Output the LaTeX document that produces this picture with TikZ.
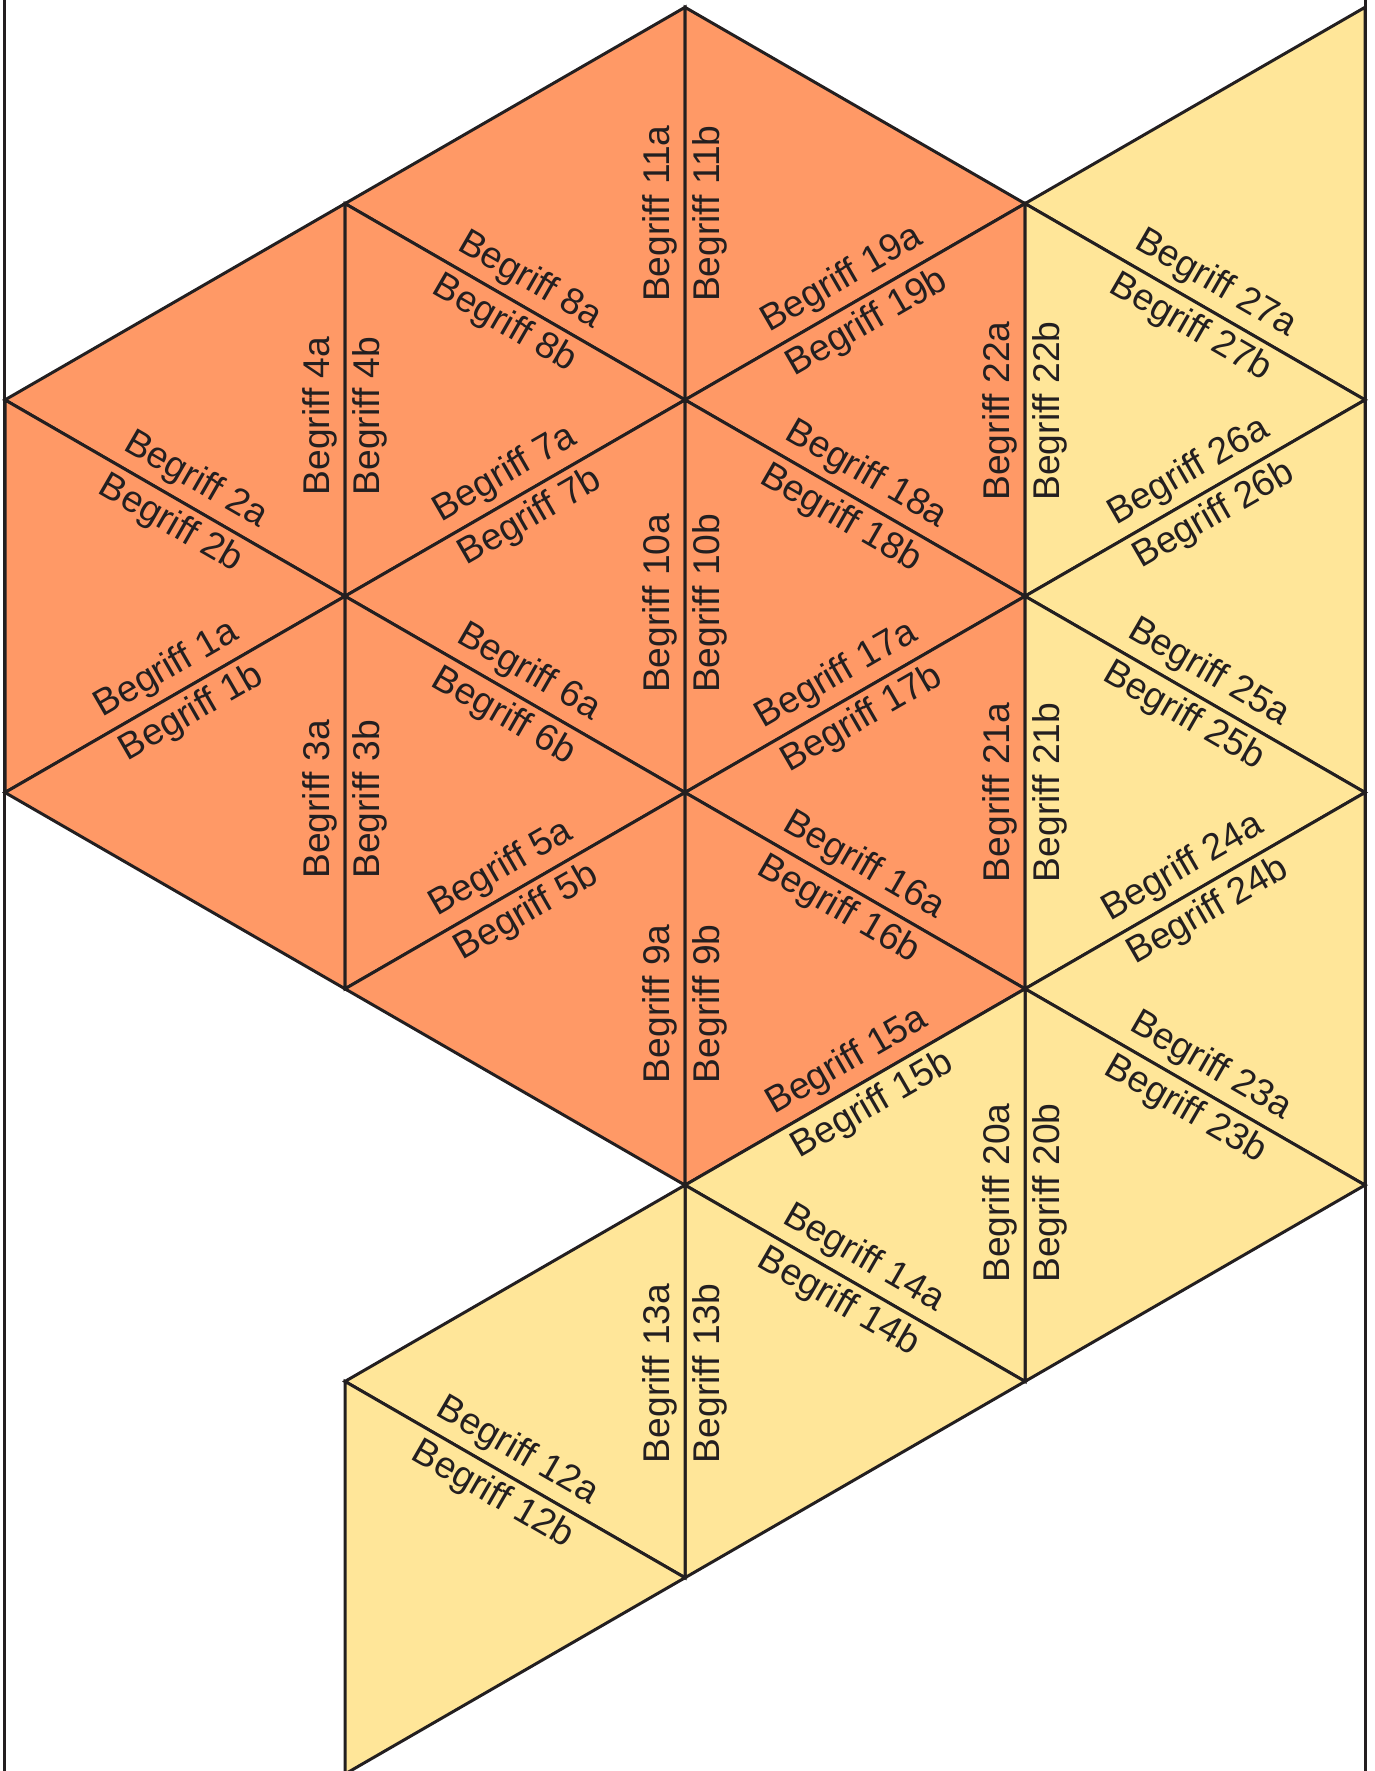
\documentclass[tikz,border=0pt]{standalone}
\usepackage{fontspec}
\setmainfont{Liberation Sans}
\usetikzlibrary{calc}
\definecolor{orangefill}{HTML}{FF9966}
\definecolor{yellowfill}{HTML}{FFE699}
\definecolor{inkc}{HTML}{231F20}
% #1 start, #2 end, #3 angle, #4 number, #5 shift along the edge
\newcommand\tarsialab[5]{%
  \path (#1) -- (#2) coordinate[pos=0.5] (m#4);
  \node[lbl, rotate=#3] (la#4) at ($(m#4)+(#3+90:16)+(#3:#5)$) {Begriff #4a};
  \node[lbl, rotate=#3] (lb#4) at ($(m#4)+(#3-90:34.5)+(#3:#5)$) {Begriff #4b};
}
\begin{document}
\begin{tikzpicture}[x=0.5pt,y=0.5pt,
  tri/.style={draw=inkc, line width=1.5pt, line join=miter},
  otri/.style={tri, fill=orangefill},
  ytri/.style={tri, fill=yellowfill},
  border/.style={draw=inkc, line width=1.5pt},
  lbl/.style={anchor=base, inner sep=0pt, text=inkc, font=\fontsize{18.6}{22}\selectfont}]
\useasboundingbox (0,0) rectangle (1375,-1771);
\foreach \c in {0,...,4} {
  \foreach \r in {0,...,9} {
    \coordinate (v\c-\r) at ({5+340*\c},{-(7.3+196.3*\r)});
  }
}
\coordinate (bl1) at (4.5,0);
\coordinate (bl2) at (4.5,-1771);
\coordinate (br1) at (1365.3,0);
\coordinate (br2) at (1365.3,-1771);
% orange triangles
\path[otri] (v0-2) -- (v1-1) -- (v1-3) -- cycle;
\path[otri] (v0-2) -- (v0-4) -- (v1-3) -- cycle;
\path[otri] (v0-4) -- (v1-3) -- (v1-5) -- cycle;
\path[otri] (v1-1) -- (v2-0) -- (v2-2) -- cycle;
\path[otri] (v1-1) -- (v1-3) -- (v2-2) -- cycle;
\path[otri] (v1-3) -- (v2-2) -- (v2-4) -- cycle;
\path[otri] (v1-3) -- (v1-5) -- (v2-4) -- cycle;
\path[otri] (v1-5) -- (v2-4) -- (v2-6) -- cycle;
\path[otri] (v2-0) -- (v2-2) -- (v3-1) -- cycle;
\path[otri] (v2-2) -- (v3-1) -- (v3-3) -- cycle;
\path[otri] (v2-2) -- (v2-4) -- (v3-3) -- cycle;
\path[otri] (v2-4) -- (v3-3) -- (v3-5) -- cycle;
\path[otri] (v2-4) -- (v2-6) -- (v3-5) -- cycle;
% yellow triangles
\path[ytri] (v3-1) -- (v4-0) -- (v4-2) -- cycle;
\path[ytri] (v3-1) -- (v3-3) -- (v4-2) -- cycle;
\path[ytri] (v3-3) -- (v4-2) -- (v4-4) -- cycle;
\path[ytri] (v3-3) -- (v3-5) -- (v4-4) -- cycle;
\path[ytri] (v3-5) -- (v4-4) -- (v4-6) -- cycle;
\path[ytri] (v3-5) -- (v3-7) -- (v4-6) -- cycle;
\path[ytri] (v2-6) -- (v3-5) -- (v3-7) -- cycle;
\path[ytri] (v2-6) -- (v2-8) -- (v3-7) -- cycle;
\path[ytri] (v1-7) -- (v2-6) -- (v2-8) -- cycle;
\path[ytri] (v1-7) -- (v1-9) -- (v2-8) -- cycle;
% page borders
\draw[border] (bl1) -- (bl2);
\draw[border] (br1) -- (br2);
% labels
\tarsialab{v0-2}{v1-3}{-30}{2}{9}
\tarsialab{v0-4}{v1-3}{30}{1}{5}
\tarsialab{v1-3}{v1-1}{90}{4}{-16}
\tarsialab{v1-5}{v1-3}{90}{3}{-7}
\tarsialab{v1-1}{v2-2}{-30}{8}{2}
\tarsialab{v1-3}{v2-2}{30}{7}{3.5}
\tarsialab{v1-3}{v2-4}{-30}{6}{1}
\tarsialab{v1-5}{v2-4}{30}{5}{-1}
\tarsialab{v2-2}{v2-0}{90}{11}{-10}
\tarsialab{v2-4}{v2-2}{90}{10}{-7}
\tarsialab{v2-6}{v2-4}{90}{9}{-15}
\tarsialab{v2-2}{v3-1}{30}{19}{0}
\tarsialab{v2-2}{v3-3}{-30}{18}{-2}
\tarsialab{v2-4}{v3-3}{30}{17}{-6.5}
\tarsialab{v2-4}{v3-5}{-30}{16}{-5}
\tarsialab{v2-6}{v3-5}{30}{15}{6}
\tarsialab{v2-6}{v3-7}{-30}{14}{-5}
\tarsialab{v2-8}{v2-6}{90}{13}{8}
\tarsialab{v1-7}{v2-8}{-30}{12}{-12}
\tarsialab{v3-3}{v3-1}{90}{22}{-11}
\tarsialab{v3-5}{v3-3}{90}{21}{0}
\tarsialab{v3-7}{v3-5}{90}{20}{-8}
\tarsialab{v3-1}{v4-2}{-30}{27}{9}
\tarsialab{v3-3}{v4-2}{30}{26}{8}
\tarsialab{v3-3}{v4-4}{-30}{25}{1}
\tarsialab{v3-5}{v4-4}{30}{24}{1}
\tarsialab{v3-5}{v4-6}{-30}{23}{3}
\end{tikzpicture}
\end{document}
